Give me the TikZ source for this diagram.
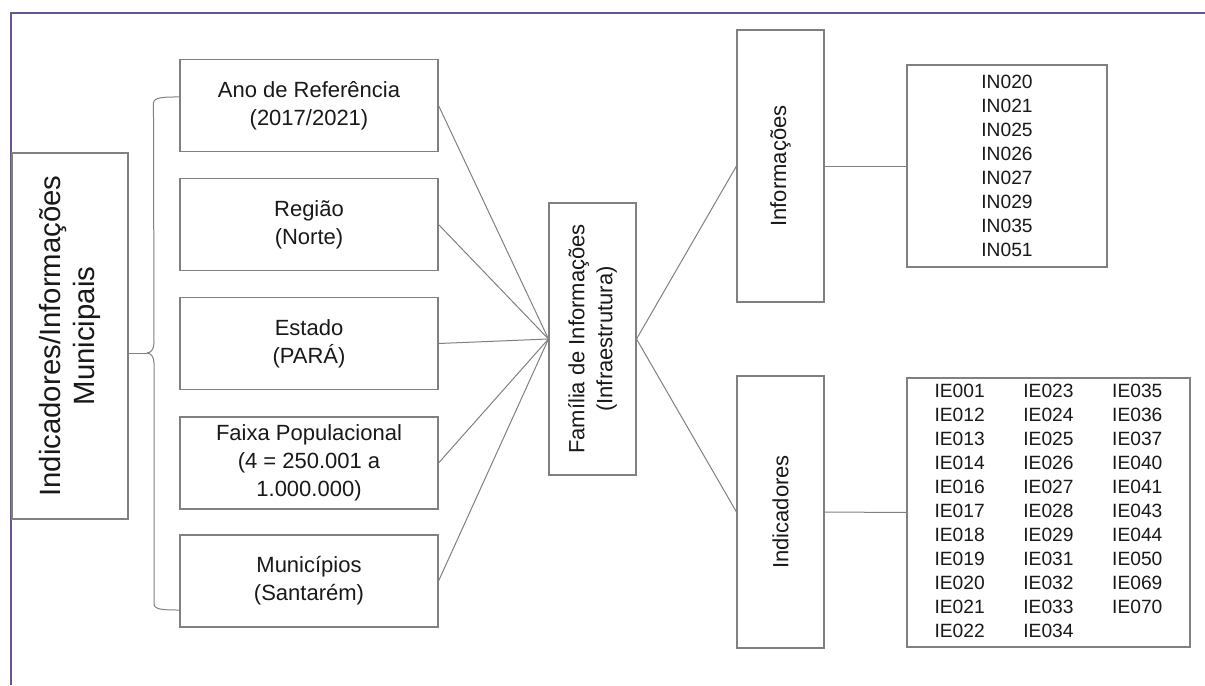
\documentclass[tikz,border=0pt]{standalone}
\usepackage{fontspec}
\setmainfont{Liberation Sans}
\usepackage{xcolor}
\usepackage{tikz}
\usetikzlibrary{positioning,calc}

\definecolor{framepurple}{RGB}{104,84,148}
\definecolor{boxgray}{RGB}{128,128,128}
\definecolor{textdark}{RGB}{25,25,25}

\tikzset{
  box/.style={draw=boxgray, line width=0.8pt, fill=white, align=center,
    inner sep=0pt, text=textdark, font=\fontsize{16.5}{21}\selectfont},
  item/.style={box, minimum width=193.5pt, minimum height=69pt},
  tall/.style={box, rotate=90, minimum width=204pt, minimum height=65.25pt},
  codes/.style={box, font=\fontsize{14.4}{18}\selectfont},
  link/.style={draw=boxgray, line width=0.75pt},
}

\begin{document}
\begin{tikzpicture}[x=0.75pt,y=-0.75pt]
  \useasboundingbox (0,0) rectangle (1205,685);
  % frame (top and left edges only)
  \draw[framepurple, line width=1.6pt] (11,685) -- (11,13) -- (1205,13);

  % rotated boxes: north = left side, south = right side
  \node[box, rotate=90, minimum width=274.5pt, minimum height=87pt,
        font=\fontsize{22}{26}\selectfont] (main) at (70,336)
        {Indicadores/Informações\\Municipais};

  \node[item] (ano)   at (309,105.5) {Ano de Referência\\(2017/2021)};
  \node[item] (reg)   at (309,224.5) {Região\\(Norte)};
  \node[item] (est)   at (309,343.5) {Estado\\(PARÁ)};
  \node[item] (faixa) at (309,463)   {Faixa Populacional\\(4 = 250.001 a\\1.000.000)};
  \node[item] (muni)  at (309,581)   {Municípios\\(Santarém)};

  \node[tall] (fam)  at (592.5,339) {Família de Informações\\(Infraestrutura)};
  \node[tall] (info) at (780.5,166) {Informações};
  \node[tall] (ind)  at (780.5,512) {Indicadores};

  \node[codes, minimum width=150pt, minimum height=151.5pt] (infolist) at (1007,166)
    {IN020\\IN021\\IN025\\IN026\\IN027\\IN029\\IN035\\IN051};
  \node[codes, minimum width=212.25pt, minimum height=201.75pt] (indlist) at (1048.5,512.5)
    {\begin{tabular}{@{}l@{\hspace{29pt}}l@{\hspace{29pt}}l@{}}
     IE001 & IE023 & IE035\\
     IE012 & IE024 & IE036\\
     IE013 & IE025 & IE037\\
     IE014 & IE026 & IE040\\
     IE016 & IE027 & IE041\\
     IE017 & IE028 & IE043\\
     IE018 & IE029 & IE044\\
     IE019 & IE031 & IE050\\
     IE020 & IE032 & IE069\\
     IE021 & IE033 & IE070\\
     IE022 & IE034 &
     \end{tabular}};

  % brace grouping the five filters
  \coordinate (tip) at (147,353);
  \draw[link] ([yshift=6.4pt]ano.west) .. controls +(-14,0) and +(0,-6) .. ++(-26,6)
    -- (154,343) .. controls +(0,7) and +(3,0) .. (tip);
  \draw[link] (tip) .. controls +(3,0) and +(0,-7) .. (154,363)
    -- (154,604) .. controls +(0,6) and +(-14,0) .. ([yshift=-21.75pt]muni.west);
  \draw[link] (tip) -- (tip -| main.south);

  % links
  \foreach \n in {ano,reg,est,faixa,muni}
    \draw[link] (\n.east) -- (fam.north);
  \draw[link] (fam.south) -- (info.north);
  \draw[link] (fam.south) -- (ind.north);
  \draw[link] (info.south) -- (infolist.west);
  \draw[link] (ind.south) -- (indlist.west);
\end{tikzpicture}
\end{document}
